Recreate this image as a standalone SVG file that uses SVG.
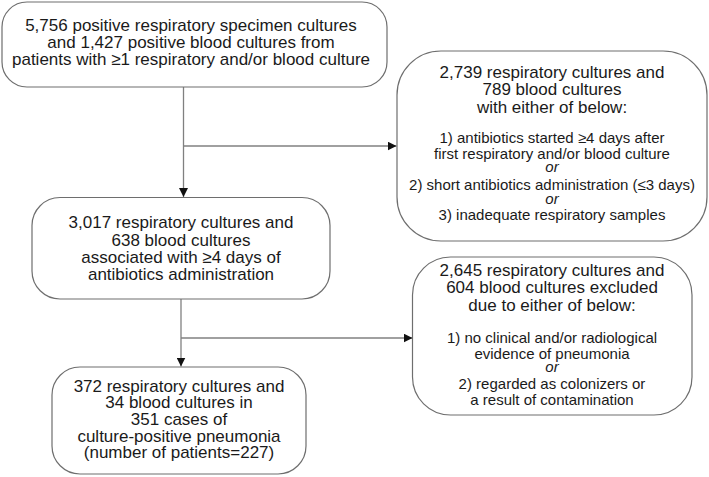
<svg xmlns="http://www.w3.org/2000/svg" width="709" height="477" viewBox="0 0 709 477">
<style>
.box{fill:#fff;stroke:#6e6e6e;stroke-width:1.2}
.t{font-family:"Liberation Sans",Arial,sans-serif;font-size:17px;fill:#1a1a1a;text-anchor:middle}
.s{font-size:15px}
.i{font-style:italic}
.c{fill:none;stroke:#808080;stroke-width:1.3}
</style>
<defs>
<marker id="ah" viewBox="0 0 10 10" refX="10" refY="5" markerWidth="9" markerHeight="9" markerUnits="userSpaceOnUse" orient="auto">
<path d="M0,0 L10,5 L0,10 z" fill="#111"/>
</marker>
</defs>
<rect width="709" height="477" fill="#fff"/>
<g id="connectors">
<path class="c" d="M183.5 87 V197" marker-end="url(#ah)"/>
<path class="c" d="M183.5 146 H396.5" marker-end="url(#ah)"/>
<path class="c" d="M181 299 V366.5" marker-end="url(#ah)"/>
<path class="c" d="M181 338 H412.5" marker-end="url(#ah)"/>
</g>
<g id="n1">
<rect class="box" x="2" y="2" width="385" height="85" rx="25"/>
<text class="t" x="191" y="30.5">5,756 positive respiratory specimen cultures</text>
<text class="t" x="191" y="47.5">and 1,427 positive blood cultures from</text>
<text class="t" x="191" y="64.5">patients with ≥1 respiratory and/or blood culture</text>
</g>
<g id="n2">
<rect class="box" x="397" y="51" width="310" height="190" rx="44"/>
<text class="t" x="552" y="77.5">2,739 respiratory cultures and</text>
<text class="t" x="552" y="95">789 blood cultures</text>
<text class="t" x="552" y="112.5">with either of below:</text>
<text class="t s" x="552" y="143.3">1) antibiotics started ≥4 days after</text>
<text class="t s" x="552" y="158.7">first respiratory and/or blood culture</text>
<text class="t s i" x="552" y="172">or</text>
<text class="t s" x="552" y="189.5">2) short antibiotics administration (≤3 days)</text>
<text class="t s i" x="552" y="204">or</text>
<text class="t s" x="552" y="220.3">3) inadequate respiratory samples</text>
</g>
<g id="n3">
<rect class="box" x="32" y="197.5" width="298" height="101.5" rx="28"/>
<text class="t" x="181" y="228.3">3,017 respiratory cultures and</text>
<text class="t" x="181" y="245.6">638 blood cultures</text>
<text class="t" x="181" y="263">associated with ≥4 days of</text>
<text class="t" x="181" y="280.3">antibiotics administration</text>
</g>
<g id="n4">
<rect class="box" x="412.5" y="257" width="279.5" height="158" rx="38"/>
<text class="t" x="552" y="276">2,645 respiratory cultures and</text>
<text class="t" x="552" y="293.3">604 blood cultures excluded</text>
<text class="t" x="552" y="310.8">due to either of below:</text>
<text class="t s" x="552" y="343.3">1) no clinical and/or radiological</text>
<text class="t s" x="552" y="358.8">evidence of pneumonia</text>
<text class="t s i" x="552" y="372">or</text>
<text class="t s" x="552" y="389.3">2) regarded as colonizers or</text>
<text class="t s" x="552" y="404.5">a result of contamination</text>
</g>
<g id="n5">
<rect class="box" x="52" y="367" width="254" height="107" rx="28"/>
<text class="t" x="179" y="391.7">372 respiratory cultures and</text>
<text class="t" x="179" y="408.3">34 blood cultures in</text>
<text class="t" x="179" y="425">351 cases of</text>
<text class="t" x="179" y="441.7">culture-positive pneumonia</text>
<text class="t" x="179" y="458.3">(number of patients=227)</text>
</g>
</svg>
